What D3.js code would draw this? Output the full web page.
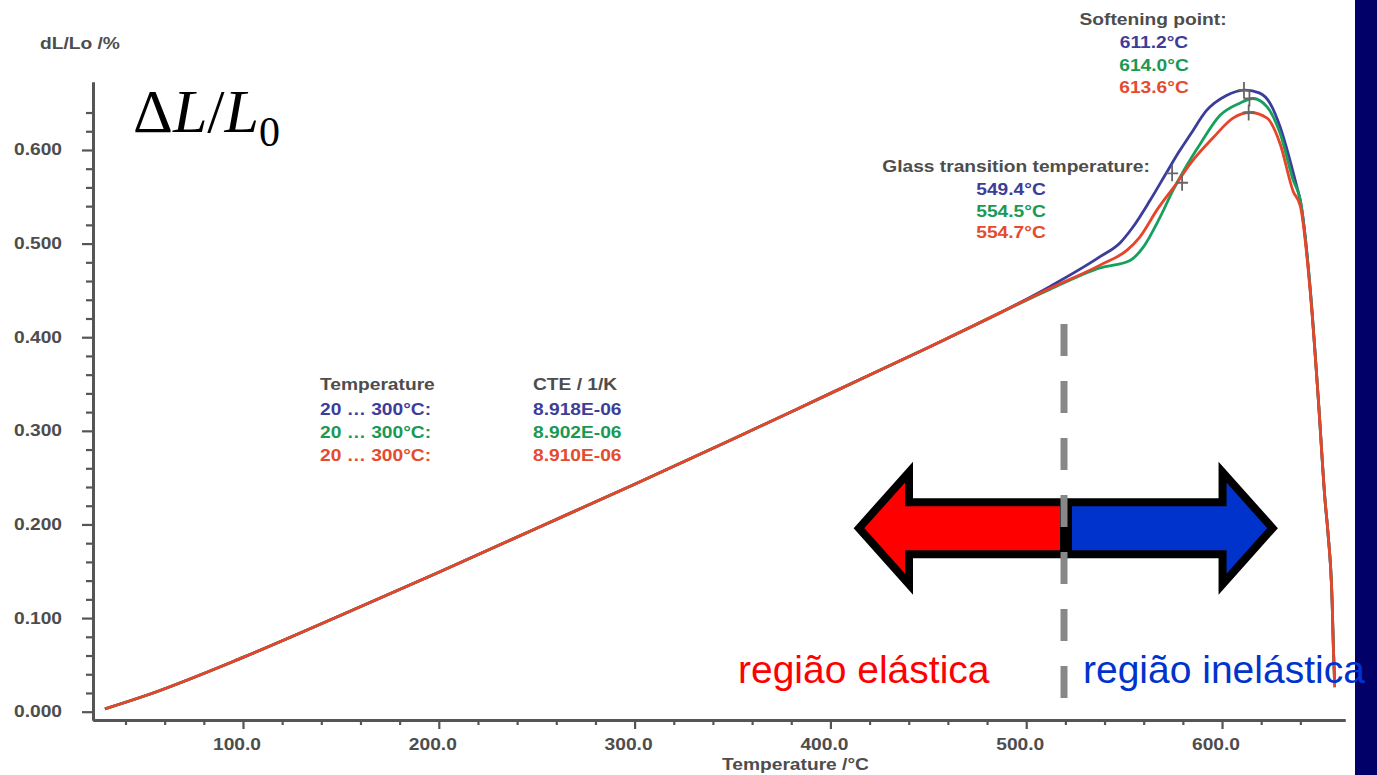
<!DOCTYPE html>
<html><head><meta charset="utf-8">
<script src="https://cdn.jsdelivr.net/npm/d3@7"></script>
<style>body{margin:0;background:#fff;overflow:hidden}svg{display:block}</style>
</head><body><svg id="c" width="1377" height="775"></svg>
<script>
// ---- data ----
const lowT = [29.5, 50, 100, 150, 200, 250, 300, 350, 400, 450, 486.6];
const lowV = [0.003, 0.017, 0.058, 0.103, 0.149, 0.196, 0.243, 0.291, 0.340, 0.389, 0.426];
const blueTailT = [512, 537.7, 548, 554.6, 563.2, 572, 578, 584, 592, 602, 612, 619, 624.5, 629.6, 634.7, 638.3, 640, 645.1, 649.2, 652.6, 654.1, 656.2, 656.9, 657.5];
const blueTailV = [0.454, 0.486, 0.501, 0.518, 0.546, 0.577, 0.598, 0.617, 0.642, 0.658, 0.664, 0.661, 0.650, 0.625, 0.589, 0.560, 0.546, 0.450, 0.333, 0.226, 0.191, 0.119, 0.066, 0.034];
const greenTailT = [512, 537.7, 553, 559.7, 568.3, 575, 581, 589, 599, 609, 615.8, 623, 629.6, 636.3, 640, 645.1, 649.2, 652.6, 654.1, 656.2, 656.9, 657.5];
const greenTailV = [0.451, 0.474, 0.482, 0.496, 0.528, 0.557, 0.580, 0.607, 0.637, 0.650, 0.655, 0.646, 0.618, 0.568, 0.546, 0.450, 0.333, 0.226, 0.191, 0.119, 0.066, 0.030];
const redTailT = [512, 537.7, 551.5, 558, 566.8, 577, 584, 595.4, 605.6, 614.3, 623, 629.6, 636.3, 640, 645.1, 649.2, 652.6, 654.1, 656.2, 656.9, 657.5];
const redTailV = [0.452, 0.477, 0.493, 0.507, 0.536, 0.565, 0.586, 0.613, 0.634, 0.640, 0.634, 0.607, 0.556, 0.540, 0.447, 0.333, 0.226, 0.191, 0.119, 0.066, 0.026];

const xMajorTicks = [100, 200, 300, 400, 500, 600];
const xTickLabels = ["100.0", "200.0", "300.0", "400.0", "500.0", "600.0"];
const yMajorTicks = [0, 0.1, 0.2, 0.3, 0.4, 0.5, 0.6];
const yTickLabels = ["0.000", "0.100", "0.200", "0.300", "0.400", "0.500", "0.600"];

const softeningT = [611.2, 614.0, 613.6];
const softeningV = [0.664, 0.655, 0.640];
const softeningLabels = ["611.2°C", "614.0°C", "613.6°C"];
const glassLabels = ["549.4°C", "554.5°C", "554.7°C"];
const glassMarkT = [574.5, 579.6];
const glassMarkV = [0.575, 0.565];
const cteRanges = ["20 … 300°C:", "20 … 300°C:", "20 … 300°C:"];
const cteValues = ["8.918E-06", "8.902E-06", "8.910E-06"];

const splitT = 519.3;      // elastic / inelastic boundary
const redTipT = 414.6;
const blueTipT = 625.8;
const arrowV = 0.196;

// ---- styles ----
const curveColors = ["#3c3c9c", "#17a05d", "#e8442a"];
const textColors = ["#3d3d99", "#1a9955", "#e54b2e"];
const gray = "#4d4d4d";

const svg = d3.select("#c");
const x = d3.scaleLinear().domain([23.4, 662.8]).range([93, 1345]);
const y = d3.scaleLinear().domain([-0.00887, 0.6726]).range([720, 82]);

function stext(sel, px, py, str, o = {}) {
  const t = sel.append("text")
    .attr("transform", `translate(${px},${py}) scale(${o.sx ?? 1.2},1)`)
    .attr("text-anchor", o.anchor || "start")
    .attr("dominant-baseline", "central")
    .attr("font-family", o.family || "'Liberation Sans', Arial, sans-serif")
    .attr("font-weight", o.weight || "bold")
    .attr("font-size", o.size || 16)
    .attr("fill", o.color || gray)
    .text(str);
  return t;
}

// right navy bar
svg.append("rect").attr("x", 1355).attr("y", 0).attr("width", 22).attr("height", 775).attr("fill", "#000068");

// axes
const gx = svg.append("g").attr("transform", `translate(0,720)`);
gx.call(d3.axisBottom(x).tickValues(d3.range(40, 641, 20).filter(v => v % 100 !== 0)).tickSize(5).tickSizeOuter(0).tickFormat(""));
svg.append("g").attr("transform", `translate(0,720)`).call(d3.axisBottom(x).tickValues(xMajorTicks).tickSize(9).tickSizeOuter(0).tickFormat(""));
const gy = svg.append("g").attr("transform", `translate(93,0)`);
gy.call(d3.axisLeft(y).tickValues(d3.range(0, 33).map(i => i * 0.02).filter((v, i) => i % 5 !== 0)).tickSize(7).tickSizeOuter(0).tickFormat(""));
svg.append("g").attr("transform", `translate(93,0)`).call(d3.axisLeft(y).tickValues(yMajorTicks).tickSize(11).tickSizeOuter(0).tickFormat(""));
svg.selectAll(".domain").attr("stroke", "#555").attr("stroke-width", 3);
svg.selectAll(".tick line").attr("stroke", "#555").attr("stroke-width", 2.2);

xMajorTicks.forEach((t, i) => stext(svg, x(t) - 6, 745, xTickLabels[i], { anchor: "middle" }));
yMajorTicks.forEach((v, i) => stext(svg, 62, y(v), yTickLabels[i], { anchor: "end" }));
stext(svg, 722, 765, "Temperature /°C");
stext(svg, 40, 44, "dL/Lo /%");

// curves
const line = d3.line().x(d => x(d[0])).y(d => y(d[1])).curve(d3.curveMonotoneX);
const series = [
  [lowT.concat(blueTailT), lowV.concat(blueTailV)],
  [lowT.concat(greenTailT), lowV.concat(greenTailV)],
  [lowT.concat(redTailT), lowV.concat(redTailV)]
];
series.forEach((s, i) => {
  svg.append("path").datum(s[0].map((t, j) => [t, s[1][j]]))
    .attr("d", line).attr("fill", "none").attr("stroke", curveColors[i])
    .attr("stroke-width", 2.8).attr("stroke-linejoin", "round");
});

// markers
function cross(px, py) {
  svg.append("path").attr("d", `M${px - 6},${py}h12M${px},${py - 8}v16`)
    .attr("stroke", "#666").attr("stroke-width", 1.8).attr("fill", "none");
}
softeningT.forEach((t, i) => cross(x(t), y(softeningV[i])));
glassMarkT.forEach((t, i) => cross(x(t), y(glassMarkV[i])));

// annotations text
stext(svg, 1153, 20, "Softening point:", { anchor: "middle" });
softeningLabels.forEach((s, i) => stext(svg, 1154, 43 + i * 22.5, s, { anchor: "middle", color: textColors[i] }));
stext(svg, 1016, 167, "Glass transition temperature:", { anchor: "middle" });
glassLabels.forEach((s, i) => stext(svg, 1011, 190 + i * 21.5, s, { anchor: "middle", color: textColors[i] }));
stext(svg, 320, 385, "Temperature");
stext(svg, 533, 385, "CTE / 1/K");
cteRanges.forEach((s, i) => stext(svg, 320, 409.5 + i * 23, s, { color: textColors[i] }));
cteValues.forEach((s, i) => stext(svg, 533, 409.5 + i * 23, s, { color: textColors[i] }));

// ΔL/L0
const big = svg.append("text").attr("x", 133).attr("y", 132)
  .attr("font-family", "'Liberation Serif', 'Times New Roman', serif").attr("font-size", 62).attr("fill", "#000");
big.append("tspan").text("Δ");
big.append("tspan").attr("font-style", "italic").text("L");
big.append("tspan").text("/");
big.append("tspan").attr("font-style", "italic").text("L");
big.append("tspan").attr("font-size", 42).attr("dy", 14).text("0");

// arrows
const xs = x(splitT), yc = y(arrowV);
const rt = x(redTipT), bt = x(blueTipT);
const head = 50, hh = 56, sh = 26;
svg.append("path")
  .attr("d", `M${xs},${yc - sh}L${rt + head},${yc - sh}L${rt + head},${yc - hh}L${rt},${yc}L${rt + head},${yc + hh}L${rt + head},${yc + sh}L${xs},${yc + sh}Z`)
  .attr("fill", "#ff0000").attr("stroke", "#000").attr("stroke-width", 8).attr("stroke-linejoin", "miter");
const bl = xs + 4;
svg.append("path")
  .attr("d", `M${bl},${yc - sh}L${bt - head},${yc - sh}L${bt - head},${yc - hh}L${bt},${yc}L${bt - head},${yc + hh}L${bt - head},${yc + sh}L${bl},${yc + sh}Z`)
  .attr("fill", "#0033cc").attr("stroke", "#000").attr("stroke-width", 8).attr("stroke-linejoin", "miter");

// dashed boundary
svg.append("line").attr("x1", xs).attr("x2", xs).attr("y1", y(0.414)).attr("y2", y(0.0146))
  .attr("stroke", "#888").attr("stroke-width", 7).attr("stroke-dasharray", "32 25");

// region labels
svg.append("text").attr("x", 738).attr("y", 683).attr("font-family", "'Liberation Sans', Arial, sans-serif")
  .attr("font-size", 39).attr("fill", "#ff0000").text("região elástica");
svg.append("text").attr("x", 1083).attr("y", 683).attr("font-family", "'Liberation Sans', Arial, sans-serif")
  .attr("font-size", 39).attr("fill", "#0033cc").text("região inelástica");
</script></body></html>
